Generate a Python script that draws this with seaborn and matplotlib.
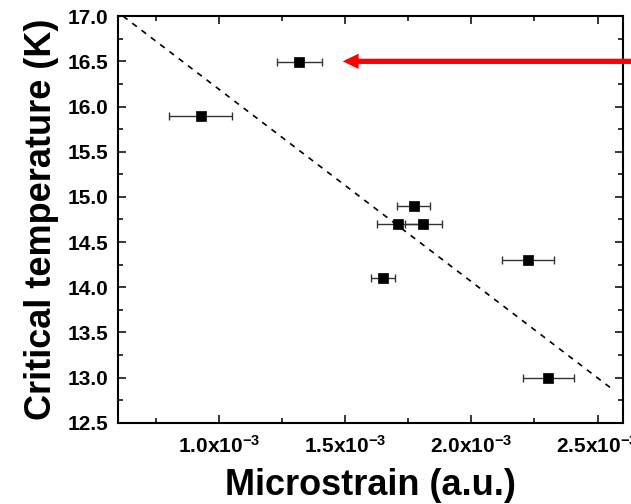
import matplotlib
matplotlib.use("Agg")
import matplotlib.pyplot as plt
from matplotlib.ticker import MultipleLocator, FixedLocator
import seaborn as sns
import pandas as pd

# Microstrain (units of 1e-3) and critical temperature (K) for each sample
strain = [0.927, 1.318, 1.650, 1.710, 1.772, 1.809, 2.224, 2.304]
strain_err = [0.123, 0.089, 0.049, 0.083, 0.065, 0.073, 0.103, 0.101]
tc = [15.89, 16.49, 14.10, 14.70, 14.90, 14.70, 14.30, 13.00]

# Linear trend (end points, strain in 1e-3)
fit_x = [0.62, 2.56]
fit_y = [17.0, 12.87]

# Highlighted sample
arrow_tip = (1.49, 16.5)

x_ticks = [1.0, 1.5, 2.0, 2.5]
x_tick_labels = [r"1.0x10$^{-3}$", r"1.5x10$^{-3}$", r"2.0x10$^{-3}$", r"2.5x10$^{-3}$"]
y_ticks = [12.5, 13.0, 13.5, 14.0, 14.5, 15.0, 15.5, 16.0, 16.5, 17.0]

sns.set_theme(style="ticks")
plt.rcParams["font.family"] = ["Liberation Sans", "DejaVu Sans"]
plt.rcParams["font.weight"] = "bold"
plt.rcParams["text.color"] = "black"
plt.rcParams["axes.labelcolor"] = "black"
plt.rcParams["xtick.color"] = "black"
plt.rcParams["ytick.color"] = "black"
plt.rcParams["mathtext.fontset"] = "custom"
plt.rcParams["mathtext.rm"] = "Liberation Sans:bold"
plt.rcParams["mathtext.it"] = "Liberation Sans:bold"
plt.rcParams["mathtext.bf"] = "Liberation Sans:bold"
plt.rcParams["mathtext.default"] = "rm"

df = pd.DataFrame({"strain": strain, "err": strain_err, "tc": tc})

fig = plt.figure(figsize=(6.31, 5.04), dpi=100)
ax = fig.add_axes([0.187, 0.161, 0.800, 0.807])

# dashed trend line
sns.lineplot(x=fit_x, y=fit_y, ax=ax, color="black", lw=1.2,
             linestyle=(0, (3.4, 3.6)), zorder=2)

# horizontal error bars
ax.errorbar(df["strain"], df["tc"], xerr=df["err"], fmt="none",
            ecolor="#333333", elinewidth=1.0, capsize=3.2, capthick=1.0, zorder=3)

# sample points
sns.scatterplot(data=df, x="strain", y="tc", ax=ax, marker="s", s=60,
                color="black", edgecolor="black", linewidth=0.5, zorder=4)

# red arrow pointing at the highlighted sample
ax.annotate("", xy=arrow_tip, xycoords="data",
            xytext=(1.05, arrow_tip[1]), textcoords=("axes fraction", "data"),
            arrowprops=dict(arrowstyle="simple,head_length=1.15,head_width=1.1,tail_width=0.38",
                            fc="#ff0000", ec="none", lw=0, shrinkA=0, shrinkB=0,
                            mutation_scale=10),
            annotation_clip=False, zorder=5)

ax.set_xlim(0.6, 2.6)
ax.set_ylim(12.5, 17.0)
ax.xaxis.set_major_locator(FixedLocator(x_ticks))
ax.xaxis.set_minor_locator(MultipleLocator(0.25))
ax.set_xticklabels(x_tick_labels)
ax.yaxis.set_major_locator(FixedLocator(y_ticks))
ax.yaxis.set_minor_locator(MultipleLocator(0.25))
ax.set_yticklabels([f"{v:.1f}" for v in y_ticks])

ax.tick_params(which="both", direction="in", top=True, right=True,
               labelsize=15, width=1.1, colors="black")
ax.tick_params(axis="y", pad=7)
ax.tick_params(axis="x", pad=9)
ax.tick_params(which="major", length=6)
ax.tick_params(which="minor", length=3.5)
for lab in ax.get_xticklabels() + ax.get_yticklabels():
    lab.set_fontweight("bold")

for sp in ax.spines.values():
    sp.set_visible(True)
    sp.set_linewidth(1.5)
    sp.set_color("black")

ax.set_xlabel("Microstrain (a.u.)", fontsize=26, fontweight="bold", labelpad=8)
ax.set_ylabel("Critical temperature (K)", fontsize=26, fontweight="bold", labelpad=6)

fig.savefig("out.png", dpi=100)
